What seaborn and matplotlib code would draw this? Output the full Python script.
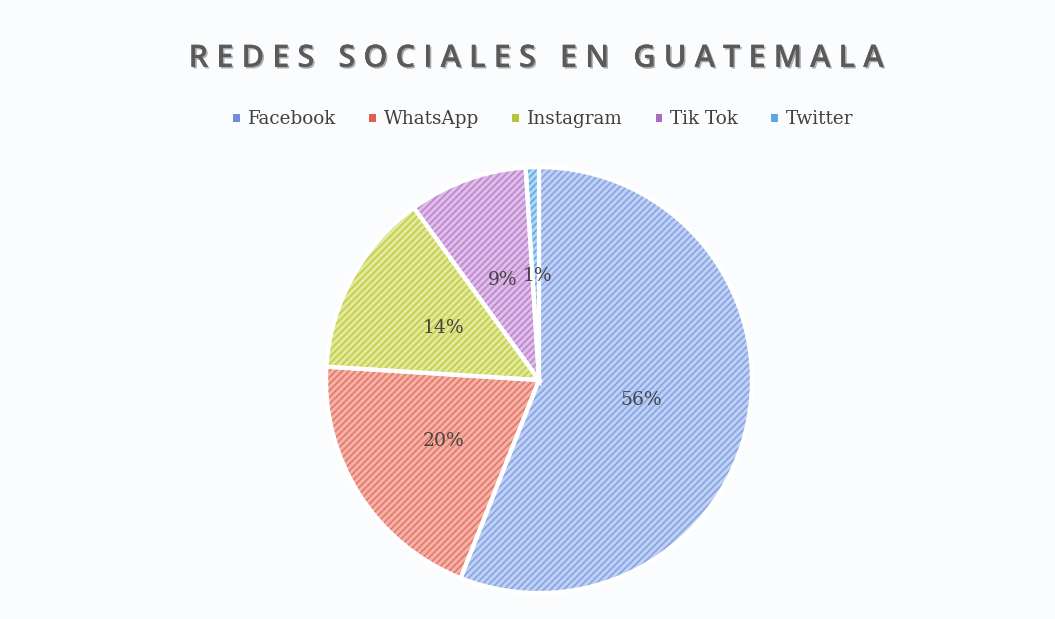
import matplotlib
matplotlib.use("Agg")
import matplotlib.pyplot as plt
import matplotlib.patheffects as pe
from matplotlib.patches import Patch
import numpy as np
import seaborn as sns

# data
redes = ["Facebook", "WhatsApp", "Instagram", "Tik Tok", "Twitter"]
porcentajes = [56, 20, 14, 9, 1]
etiquetas = ["56%", "20%", "14%", "9%", "1%"]

sns.set_theme(style="white")
plt.rcParams["hatch.linewidth"] = 1.2

fill_colors = ["#bfd0f4", "#f4b2a6", "#e2e89c", "#e0bde9", "#b0d7f4"]
hatch_colors = ["#86a4e4", "#e6756a", "#c2cf48", "#bb86cf", "#5aa9e6"]
legend_colors = ["#6f90d8", "#e0604f", "#b6c53c", "#a86cc0", "#5aa9e6"]

fig = plt.figure(figsize=(10.55, 6.19), dpi=100)
fig.patch.set_facecolor("#fbfcfe")
ax = fig.add_axes([0.309, 0.042, 0.4038, 0.688])
ax.set_facecolor("none")

# hatched wedges
wedges, _ = ax.pie(porcentajes, startangle=90, counterclock=False,
                   colors=fill_colors, radius=1.0)
for w, hc in zip(wedges, hatch_colors):
    w.set_hatch("/////")
    w.set_edgecolor(hc)
    w.set_linewidth(0)

# white borders on top
ax.pie(porcentajes, startangle=90, counterclock=False, radius=1.0,
       wedgeprops=dict(facecolor="none", edgecolor="white", linewidth=3))

# percent labels
label_dist = [0.49, 0.53, 0.51, 0.50, 0.49]
label_shift = [0.0, 0.0, 0.0, 0.0, 0.01]
for w, txt, dist, dx in zip(wedges, etiquetas, label_dist, label_shift):
    ang = np.deg2rad((w.theta1 + w.theta2) / 2)
    x, y = dist * np.cos(ang) + dx, dist * np.sin(ang)
    ax.text(x, y, txt, ha="center", va="center", fontsize=13.5,
            family="DejaVu Serif", color="#454545")

ax.set_xlim(-1.0, 1.0)
ax.set_ylim(-1.0, 1.0)
ax.set_aspect("equal")

fig.text(0.508, 0.905, "R E D E S   S O C I A L E S   E N   G U A T E M A L A",
         ha="center", va="center", fontsize=22.2, family="Open Sans",
         fontweight="semibold", color="#5a5a5a",
         path_effects=[pe.withSimplePatchShadow(offset=(1.2, -1.2), alpha=0.35),
                       pe.Normal()])

handles = [Patch(facecolor=c, edgecolor="none") for c in legend_colors]
fig.legend(handles, redes, loc="center", bbox_to_anchor=(0.515, 0.807), ncol=5,
           frameon=False, handlelength=0.35, handleheight=0.35, handletextpad=0.45,
           columnspacing=1.8, prop={"family": "DejaVu Serif", "size": 13.2},
           labelcolor="#404040")

fig.savefig("out.png", dpi=100, facecolor=fig.get_facecolor())
